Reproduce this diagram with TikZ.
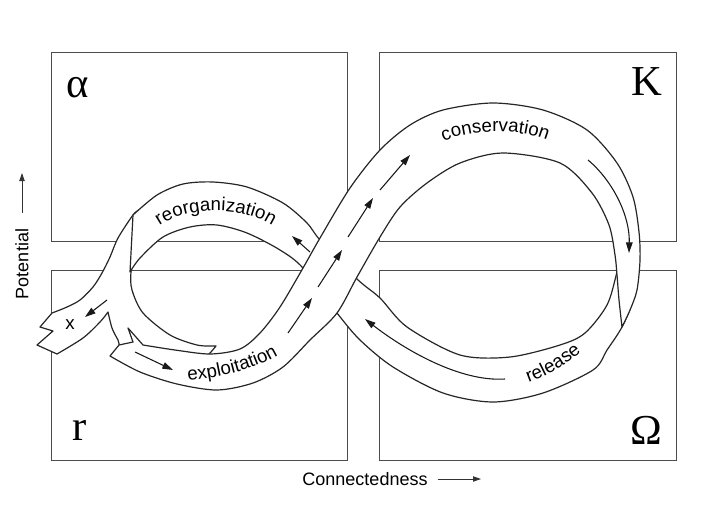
\documentclass[tikz,border=0pt]{standalone}
\usepackage{fontspec}
\setmainfont{Liberation Serif}
\setsansfont{Liberation Sans}
\usetikzlibrary{arrows.meta}
\usetikzlibrary{decorations.text}

\newcommand{\bandfont}{\sffamily\fontsize{14}{16}\selectfont}
\newcommand{\phasefont}{\fontsize{32}{32}\selectfont}
\newcommand{\axisfont}{\sffamily\fontsize{13.5}{15}\selectfont}

\tikzset{
  quad/.style={draw=black!70, line width=0.6pt},
  ribbon/.style={fill=white, draw=black!85, line width=0.9pt, line join=round},
  flow/.style={draw=black!90, line width=0.8pt, -{Triangle[length=8pt,width=5pt]}},
  axisarrow/.style={draw=black!80, line width=0.6pt, -{Triangle[length=6pt,width=4pt]}},
  bandtext/.style={decorate, decoration={text along path, text align=center}},
}

\begin{document}
\begin{tikzpicture}[x=0.75pt,y=0.75pt,yscale=-1,xscale=1]
\useasboundingbox (0,0) rectangle (712,514);

%Rectangles
\draw[quad] (51,52) rectangle (347,241);
\draw[quad] (379,52) rectangle (676,241);
\draw[quad] (51,270) rectangle (347,460);
\draw[quad] (379,270) rectangle (676,460);

%Shape: left fan, x branch and tail
\draw[ribbon] plot[smooth] coordinates {(139,210) (133,215) (118,238) (110,257) (102,273) (93,287) (80,300) (67,307) (52,313)}
  -- (40,327) -- (53,331) -- (37,345) -- (57,354)
  -- plot[smooth] coordinates {(57,354) (83,338) (100,322) (108,312)}
  -- plot[smooth] coordinates {(108,312) (112,328) (118,340) (125,352) (170,358) (205,358)}
  -- (211,352) -- (216,346)
  -- plot[smooth] coordinates {(215,346) (197,345) (170,335) (143,313) (132,290) (131,272) (136,250) (139,225)}
  -- cycle;

%Shape: release and reorganization
\draw[ribbon] plot[smooth] coordinates {(625,240) (617,272) (607,305) (585,333) (560,345) (510,357) (460,355) (407,327) (380,298) (357,279) (320,240) (307,223) (283,203) (247,187) (213,182) (183,184) (157,195) (133,215)}
  -- plot[smooth] coordinates {(130,272) (140,258) (163,237) (190,227) (217,225) (247,233) (280,250) (303,268) (337,313) (360,340) (393,367) (443,393) (493,402) (543,393) (593,370) (607,350) (622,327) (633,300) (636,270) (632,240)}
  -- cycle;

%Shape: exploitation and conservation
\draw[ribbon] plot[smooth] coordinates {(110,356) (140,372) (177,384) (217,390) (253,383) (283,367) (310,340) (337,313) (357,277) (380,237) (400,207) (427,183) (460,163) (503,153) (560,163) (592,193) (609,225) (615,255) (617,275) (619,300) (622,327)}
  -- plot[smooth] coordinates {(622,327) (630,310) (637,290) (640,260) (639,232) (633,197) (617,163) (587,130) (543,110) (493,103) (443,110) (410,125) (380,150) (350,188) (320,238) (303,268) (280,307) (260,333) (240,349) (210,354) (175,350) (143,345)}
  -- (128,328) -- (133,342) -- (119,345) -- cycle;

%Arrows in the band
\draw[flow] (135,352) -- (173,370);
\draw[flow] (288,333) -- (312,298);
\draw[flow] (318,287) -- (342,250);
\draw[flow] (348,237) -- (373,198);
\draw[flow] (380,190) -- (410,155);
\draw[flow] (588,160) .. controls (612,180) and (630,215) .. (629,253);
\draw[flow] (505,379) .. controls (460,382) and (405,350) .. (365,319);
\draw[flow] (310,252) -- (292,236);
\draw[flow] (107,300) -- (85,317);

% Band labels
\path[bandtext, decoration={text={|\bandfont|reorganization}}] (156,228) .. controls (185,205) and (245,205) .. (276,228);
\path[bandtext, decoration={text={|\bandfont|conservation}}] (440,143) .. controls (470,128) and (520,128) .. (551,142);
\path[bandtext, decoration={text={|\bandfont|exploitation}}] (186,381) .. controls (215,378) and (250,372) .. (280,354);
\path[bandtext, decoration={text={|\bandfont|release}}] (524,384) .. controls (545,377) and (565,366) .. (585,349);
% Text Node
\node[font=\bandfont] (xlab) at (70,325) {x};

% Phase labels
\node[font=\phasefont] (alpha) at (78,88) {α};
\node[font=\phasefont] (kay) at (647,82) {K};
\node[font=\phasefont] (arr) at (80,430) {r};
\node[font=\phasefont] (omega) at (646,430) {Ω};

% Axes
\node[font=\axisfont, rotate=90] (pot) at (22,264) {Potential};
\coordinate (potfoot) at (22,213);
\coordinate (pottip) at (22,173);
\draw[axisarrow] (potfoot) -- (pottip);
\node[font=\axisfont] (conn) at (365,479) {Connectedness};
\coordinate (conntip) at (481,479);
\draw[axisarrow] ([xshift=4pt]conn.east) -- (conntip);

\end{tikzpicture}
\end{document}
